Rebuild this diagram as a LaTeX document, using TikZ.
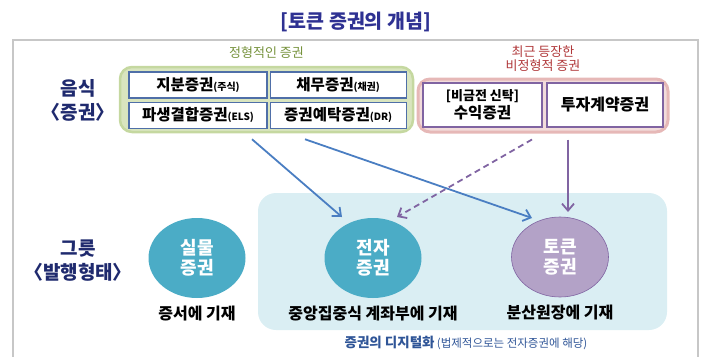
\documentclass[tikz,border=0pt]{standalone}
\usepackage{fontspec}
\setmainfont{Noto Sans CJK KR}
\usepackage{xcolor}
\usetikzlibrary{arrows.meta, positioning, shapes.geometric}

\definecolor{titlenavy}{HTML}{2E3192}
\definecolor{labelnavy}{HTML}{1F2A6E}
\definecolor{oldgreen}{HTML}{76923C}
\definecolor{newred}{HTML}{B0383A}
\definecolor{secblue}{HTML}{4F6FA8}
\definecolor{newpurple}{HTML}{8064A2}
\definecolor{arrowblue}{HTML}{4A7EC2}
\definecolor{captionblue}{HTML}{2F5597}

\newcommand{\smalltag}[1]{{\fontsize{10}{11}\selectfont #1}}

\begin{document}
\begin{tikzpicture}[
    x=1pt, y=-1pt,
    node distance=3pt,
    group/.style={rectangle, rounded corners=12pt, line width=2.5pt},
    secbox/.style={rectangle, draw=secblue, line width=1.2pt, fill=white, minimum width=138pt, minimum height=26pt, inner sep=0pt, text centered, font=\bfseries\fontsize{15.5}{18}\selectfont},
    newbox/.style={secbox, draw=newpurple, minimum height=44pt, align=center},
    form/.style={ellipse, minimum width=97pt, minimum height=80pt, inner sep=0pt, text=white, align=center, font=\bfseries\fontsize{18}{20}\selectfont},
    note/.style={font=\bfseries\fontsize{16}{18}\selectfont},
    side/.style={text=labelnavy, align=center, font=\bfseries\fontsize{19}{24}\selectfont},
    arrow/.style={-{Straight Barb[length=7pt,width=12pt]}, line width=1.8pt}
]
\useasboundingbox (0,0) rectangle (720,356);
\draw[black!22, line width=1.3pt] (13,360) -- (13,40) -- (698,40) -- (698,360);

\node[text=titlenavy, font=\bfseries\fontsize{19.5}{22}\selectfont] (title) at (356,22) {[토큰 증권의 개념]};

\node[group, fill={rgb,255:red,217;green,229;blue,191}, draw={rgb,255:red,197;green,216;blue,160}, minimum width=293pt, minimum height=65pt] (regular) at (266.5,99.5) {};
\node[group, fill={rgb,255:red,242;green,220;blue,219}, draw={rgb,255:red,230;green,184;blue,183}, line width=3pt, minimum width=250pt, minimum height=53pt] (irregular) at (543,105.5) {};
\node[rectangle, rounded corners=18pt, fill={rgb,255:red,218;green,238;blue,243}, minimum width=409pt, minimum height=137pt] (digital) at (462.5,261.5) {};

\node[text=oldgreen, font=\fontsize{13}{15}\selectfont, above=4pt of regular] (regularlabel) {정형적인 증권};
\node[text=newred, align=center, font=\fontsize{13}{14}\selectfont, above=2pt of irregular] (irregularlabel) {최근 등장한\\비정형적 증권};

\node[secbox] (equity) at (198,85) {지분증권\smalltag{(주식)}};
\node[secbox, right=2pt of equity, minimum width=136pt] (debt) {채무증권\smalltag{(채권)}};
\node[secbox, below=3pt of equity] (derivative) {파생결합증권\smalltag{(ELS)}};
\node[secbox, below=3pt of debt, minimum width=136pt] (depositary) {증권예탁증권\smalltag{(DR)}};

\node[newbox, minimum width=119pt] (trust) at (482.5,105) {{\fontsize{13}{15}\selectfont [비금전 신탁]}\\수익증권};
\node[newbox, minimum width=116pt, font=\bfseries\fontsize{16}{18}\selectfont] (investment) at (605,105) {투자계약증권};

\node[side] (content) at (78,100) {음식\\〈증권〉};
\node[side] (container) at (78,261) {그릇\\〈발행형태〉};

\node[form, fill={rgb,255:red,75;green,172;blue,198}] (physical) at (197,258) {실물\\증권};
\node[form, fill={rgb,255:red,75;green,172;blue,198}] (electronic) at (373,258) {전자\\증권};
\node[form, fill={rgb,255:red,179;green,162;blue,199}, draw=newpurple, line width=0.6pt] (token) at (560,257) {토큰\\증권};

\node[note, below=4pt of physical] {증서에 기재};
\node[note, below=4pt of electronic] {중앙집중식 계좌부에 기재};
\node[note, below=4pt of token] {분산원장에 기재};

\node[text=captionblue] (caption) at (466,343) {{\bfseries\fontsize{13.5}{15}\selectfont 증권의 디지털화} {\fontsize{11.5}{13}\selectfont (법제적으로는 전자증권에 해당)}};

\draw[arrow, arrowblue] ([xshift=-14.5pt,yshift=-6pt]regular.south) -- ([xshift=-31pt,yshift=41pt]electronic.center);
\draw[arrow, arrowblue] ([xshift=38.5pt,yshift=-6pt]regular.south) -- ([xshift=-28pt,yshift=39pt]token.center);
\draw[arrow, newpurple, dash pattern=on 6pt off 4pt] ([xshift=-11pt,yshift=-6pt]irregular.south) -- ([xshift=24pt,yshift=41pt]electronic.center);
\draw[arrow, newpurple] ([xshift=25pt,yshift=-6pt]irregular.south) -- ([xshift=8pt,yshift=45pt]token.center);

\end{tikzpicture}
\end{document}
